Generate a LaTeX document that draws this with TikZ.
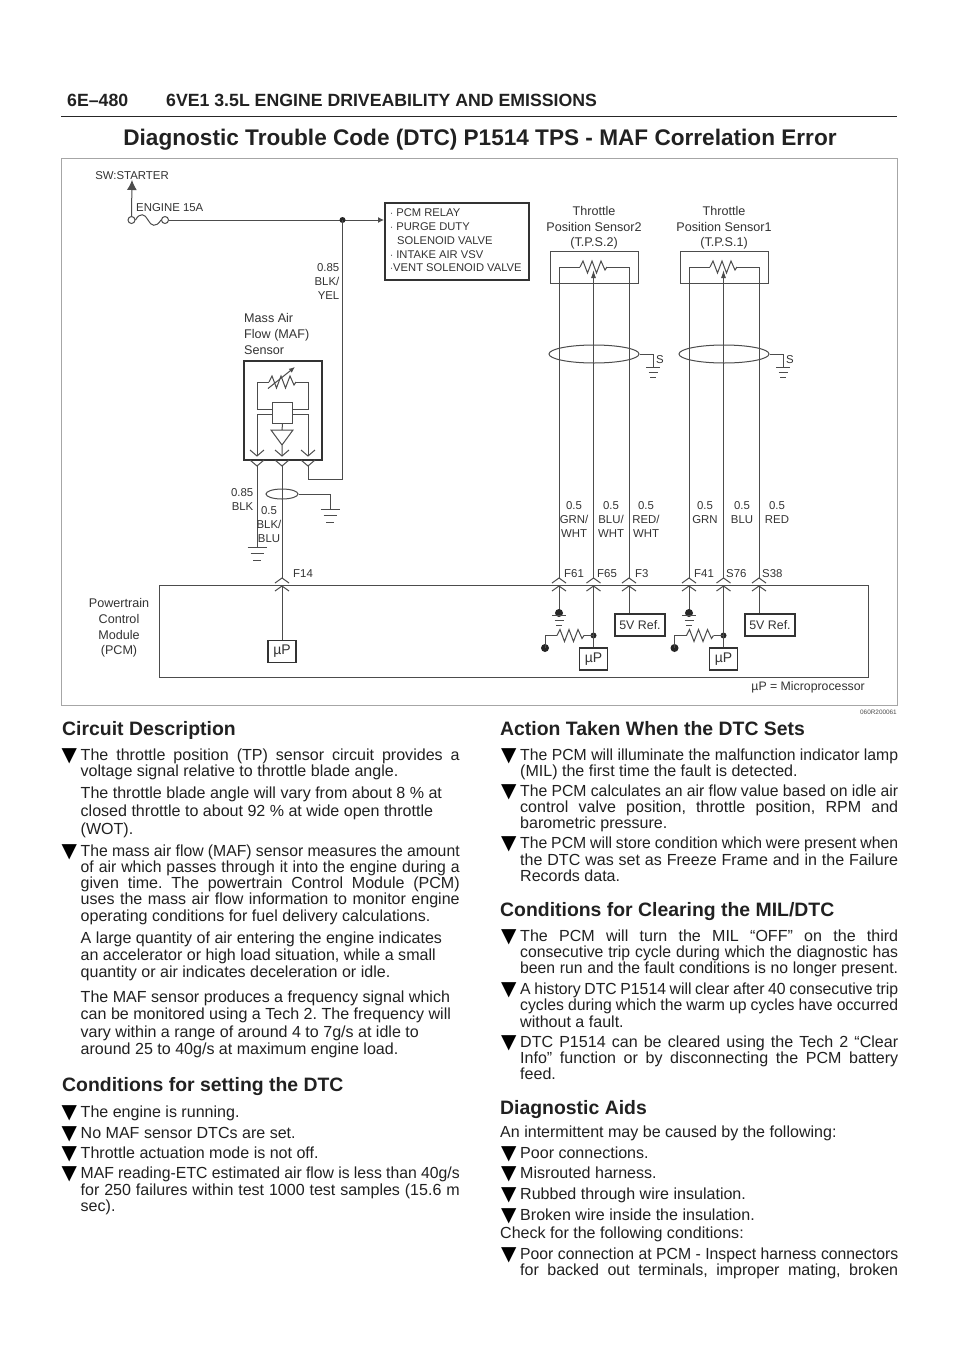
\documentclass[tikz,border=0pt]{standalone}
\usepackage{fontspec}
\usepackage{graphicx}
\setmainfont{Liberation Sans}
\newfontfamily\symfont{DejaVu Sans}
\usetikzlibrary{arrows.meta,shapes.geometric}
\definecolor{wirecol}{gray}{0.3}
\definecolor{labelcol}{gray}{0.2}
\definecolor{inkcol}{gray}{0.13}
\newcommand{\jl}[1]{\makebox[379pt][s]{#1}}
\newcommand{\jr}[1]{\makebox[378pt][s]{#1}}
\newcommand{\tl}[1]{\resizebox{379pt}{\height}{\makebox[386pt][s]{#1}}}
\newcommand{\tr}[1]{\resizebox{378pt}{\height}{\makebox[385pt][s]{#1}}}
\tikzset{
  wire/.style={draw=wirecol, line width=1pt},
  heavy/.style={draw=labelcol, line width=1.6pt},
  bodyline/.style={anchor=base west, inner sep=0pt, text=inkcol, font=\fontsize{16.05}{17}\selectfont\frenchspacing},
  headline/.style={anchor=base west, inner sep=0pt, text=inkcol, font=\fontsize{19.4}{22}\selectfont\bfseries},
  bulletmark/.style={anchor=base west, inner sep=0pt, text=black, font=\fontsize{20}{20}\selectfont\symfont},
  tag/.style={inner sep=0pt, text=labelcol, align=center, font=\fontsize{11.4}{14}\selectfont},
  big/.style={inner sep=0pt, text=labelcol, align=center, font=\fontsize{12.6}{15.6}\selectfont},
  mpbox/.style={heavy, fill=white, inner sep=0pt, minimum width=28pt, minimum height=22pt, text=labelcol, font=\fontsize{14}{14}\selectfont},
  refbox/.style={heavy, fill=white, inner sep=0pt, minimum width=50pt, minimum height=22pt, text=labelcol, font=\fontsize{12.4}{14}\selectfont},
  chevup/.pic={\draw[wire] (-7,5) -- (0,0) -- (7,5);},
  chevdown/.pic={\draw[wire] (-7,-6) -- (0,0) -- (7,-6);},
  earth/.pic={\draw[wire] (-9.5,0) -- (9.5,0) (-6.5,6.5) -- (6.5,6.5) (-4,13) -- (4,13);},
  earthsmall/.pic={\draw[wire] (-7,0) -- (7,0) (-4.5,5) -- (4.5,5) (-3,10) -- (3,10);},
  zigzag/.pic={\draw[wire] (0,0) -- (3,-6) -- (7.5,6) -- (12,-6) -- (16.5,6) -- (21,-6) -- (25,3) -- (27,0);}
}
\begin{document}
\begin{tikzpicture}[x=1pt,y=-1pt]
\useasboundingbox[fill=white] (0,0) rectangle (960,1358);
% page head
\node[anchor=base west, inner sep=0pt, text=inkcol, font=\fontsize{17.7}{18}\selectfont\bfseries] (pagenum) at (67,106.5) {6E--480};
\node[anchor=base west, inner sep=0pt, text=inkcol, font=\fontsize{17.7}{18}\selectfont\bfseries] (pagehead) at (166,106.5) {6VE1 3.5L ENGINE DRIVEABILITY AND EMISSIONS};
\draw[line width=1.8pt, draw=black!85] (61,116.5) -- (897,116.5);
\node[anchor=base, inner sep=0pt, text=inkcol, font=\fontsize{22.6}{24}\selectfont\bfseries] (pagetitle) at (480,145) {Diagnostic Trouble Code (DTC) P1514 TPS - MAF Correlation Error};
\node[draw=black!35, line width=0.9pt, inner sep=0pt, minimum width=836pt, minimum height=547pt, anchor=north west] (frame) at (61,158) {};
\node[anchor=base east, inner sep=0pt, text=wirecol, font=\fontsize{6.4}{7}\selectfont] (figcode) at (897,714) {060R200061};
% power feed
\coordinate (fuseL) at (131.5,220);
\coordinate (fuseR) at (165,220);
\coordinate (split) at (342.5,220);
\node[wire, circle, minimum size=7pt, inner sep=0pt] (fuseA) at (fuseL) {};
\node[wire, circle, minimum size=7pt, inner sep=0pt] (fuseB) at (fuseR) {};
\draw[wire] (fuseA.east) .. controls (140,212) and (145,214) .. (148,220) .. controls (151,226) and (156,228) .. (fuseB.west);
\node[tag, anchor=south] (starter) at (132,180) {SW:STARTER};
\draw[wire, -{Latex[length=10pt,width=10pt]}] (fuseA.north) -- (starter.south);
\node[tag, anchor=west] (fuselabel) at (136,208) {ENGINE 15A};
\node[heavy, inner sep=0pt, minimum width=144pt, minimum height=77pt, anchor=north west] (loadbox) at (384,202) {};
\node[tag, anchor=west, align=left, font=\fontsize{11.2}{13.7}\selectfont] (loadtext) at (390,240.5) {$\cdot$ PCM RELAY\\$\cdot$ PURGE DUTY\\\hspace*{7pt}SOLENOID VALVE\\$\cdot$ INTAKE AIR VSV\\$\cdot$VENT SOLENOID VALVE};
\draw[wire] (fuseB.east) -- (split);
\draw[wire, -{Latex[length=6pt,width=6pt]}] (split) -- (loadbox.west |- split);
\fill[black!85] (split) circle (3);
\node[tag, anchor=east, align=right] (feedlabel) at (339.5,281.5) {0.85\\BLK/\\YEL};
% mass air flow sensor
\node[big, anchor=north west, align=left] (maflabel) at (244,313.5) {Mass Air\\Flow (MAF)\\Sensor};
\node[heavy, inner sep=0pt, minimum width=78pt, minimum height=99pt, anchor=north west] (mafbox) at (243,360) {};
\node[wire, inner sep=0pt, minimum width=20pt, minimum height=21pt, anchor=north west] (mafchip) at (272,402) {};
\draw[wire] (mafchip.west |- 0,409) -- (257,409) -- (257,382) -- (269,382);
\draw[wire] (296,382) -- (308,382) -- (308,409) -- (mafchip.east |- 0,409);
\pic at (269,382) {zigzag};
\draw[wire, -{Latex[length=6pt,width=5pt]}] (268,388.5) -- (295,367);
\foreach \n/\x in {a/257,b/282,c/308} {
  \coordinate (mafin\n) at (\x,456);
  \coordinate (mafout\n) at (\x,466);
  \pic at (mafin\n) {chevdown};
  \pic at (mafout\n) {chevdown};
}
\draw[wire] (mafchip.west |- 0,414) -- (257,414) -- (mafina);
\draw[wire] (mafchip.east |- 0,414) -- (308,414) -- (mafinc);
\draw[wire] (mafchip.south) -- (282,430) (271,430) -- (293,430) -- (282,445) -- cycle (282,445) -- (mafinb);
\draw[wire] (mafoutc) -- (308,479) -- (342.5,479) -- (split);
% bottom of the sensor
\coordinate (earthA) at (257,547);
\coordinate (earthB) at (330,509);
\pic at (earthA) {earth};
\pic at (earthB) {earth};
\draw[wire] (mafouta) -- (earthA);
\node[wire, ellipse, minimum width=32pt, minimum height=10pt, inner sep=0pt] (mafshield) at (282,494) {};
\draw[wire] (mafshield.east) -- (earthB |- mafshield) -- (earthB);
\node[tag, anchor=east, align=right] (blklabel) at (253.5,500) {0.85\\BLK};
\node[tag] (blulabel) at (269,524.5) {0.5\\BLK/\\BLU};
% pcm
\node[wire, inner sep=0pt, minimum width=709pt, minimum height=92pt, anchor=north west] (pcmbox) at (159,585) {};
\node[big] (pcmlabel) at (119,628) {Powertrain\\Control\\Module\\(PCM)};
\node[anchor=east, inner sep=0pt, text=labelcol, font=\fontsize{12.3}{13}\selectfont] (mplabel) at (865,687.5) {µP = Microprocessor};
\node[mpbox] (upA) at (282,651.5) {µP};
\foreach \n/\x/\t in {p14/282/F14,p61/559/F61,p65/593.5/F65,p3/629/F3,p41/689/F41,p76/723.5/S76,p38/759/S38} {
  \coordinate (\n top) at (\x,578);
  \coordinate (\n low) at (\x,586);
  \pic at (\n top) {chevup};
  \pic at (\n low) {chevup};
}
\draw[wire] (mafoutb) -- (p14top);
\draw[wire] (p14low) -- (upA);
\foreach \n/\x/\t in {p14/293/F14,p61/564/F61,p65/597/F65,p3/635/F3,p41/694/F41,p76/726/S76,p38/762/S38}
  \node[tag, anchor=west] (\n name) at (\x,573.5) {\t};
% sensors
\foreach \s/\x/\t/\a/\b/\c/\d in {two/594/2/p61/p65/p3/S,one/724/1/p41/p76/p38/S} {
  \node[wire, inner sep=0pt, minimum width=88pt, minimum height=32pt] (box\s) at (\x,267) {};
  \node[big] (name\s) at (\x,228) {Throttle\\Position Sensor\t\\(T.P.S.\t)};
  \coordinate (left\s) at (\a top |- 0,267);
  \coordinate (right\s) at (\c top |- 0,267);
  \draw[wire] (\a top) -- (left\s) -- (\x-14,267);
  \draw[wire] (\x+13,267) -- (right\s) -- (\c top);
  \pic at (\x-14,267) {zigzag};
  \draw[wire, -{Latex[length=8pt,width=5pt]}] (\b top) -- (\b top |- 0,270);
  \node[wire, ellipse, inner sep=0pt, minimum width=90pt, minimum height=18pt] (shield\s) at (\x,354) {};
  \coordinate (earth\s) at (\x+59,367);
  \draw[wire] (shield\s.east) -- (earth\s |- shield\s) -- (earth\s);
  \pic at (earth\s) {earthsmall};
  \node[tag, anchor=west] (sname\s) at (\x+62,360) {\d};
}
\foreach \s/\a/\b/\c/\rx in {two/p61/p65/p3/545,one/p41/p76/p38/674.5} {
  \coordinate (dot\s) at (\a low |- 0,613);
  \draw[wire] (\a low) -- (dot\s);
  \fill[black!85] (dot\s) circle (4);
  \pic at (\a low |- 0,615.5) {earthsmall};
  \coordinate (tie\s) at (\b low |- 0,635.5);
  \coordinate (rstub\s) at (\rx,648);
  \fill[black!85] (rstub\s) circle (4);
  \fill[black!85] (tie\s) circle (3);
  \draw[wire] (rstub\s) -- (\rx,635.5) -- (\rx+12,635.5);
  \pic at (\rx+12,635.5) {zigzag};
  \draw[wire] (\rx+39,635.5) -- (tie\s);
  \node[mpbox] (up\s) at (\b low |- 0,659) {µP};
  \draw[wire] (\b low) -- (up\s);
  \node[refbox] (ref\s) at ([xshift=11pt]\c low |- 0,625) {5V Ref.};
  \draw[wire] (\c low) -- (\c low |- ref\s.north);
}
\foreach \n/\x/\t in {a/574/{0.5\\GRN/\\WHT},b/611/{0.5\\BLU/\\WHT},c/646/{0.5\\RED/\\WHT},d/705/{0.5\\GRN\\\strut},e/742/{0.5\\BLU\\\strut},f/777/{0.5\\RED\\\strut}}
  \node[tag, anchor=north] (col\n) at (\x,501.5) {\t};
% left column
\node[headline] (headA) at (62,735.5) {Circuit Description};
\node[headline] (headB) at (62,1091) {Conditions for setting the DTC};
\foreach \b/\t in {
  760/{\jl{The throttle position (TP) sensor circuit provides a}},
  776/{voltage signal relative to throttle blade angle.},
  798/{The throttle blade angle will vary from about 8 \% at},
  816/{closed throttle to about 92 \% at wide open throttle},
  834/{(WOT).},
  856/{\tl{The mass air flow (MAF) sensor measures the amount}},
  872/{\tl{of air which passes through it into the engine during a}},
  888/{\jl{given time. The powertrain Control Module (PCM)}},
  904/{\jl{uses the mass air flow information to monitor engine}},
  921/{operating conditions for fuel delivery calculations.},
  943/{A large quantity of air entering the engine indicates},
  960/{an accelerator or high load situation, while a small},
  977/{quantity or air indicates deceleration or idle.},
  1002/{The MAF sensor produces a frequency signal which},
  1019/{can be monitored using a Tech 2. The frequency will},
  1037/{vary within a range of around 4 to 7g/s at idle to},
  1054/{around 25 to 40g/s at maximum engine load.},
  1117/{The engine is running.},
  1138/{No MAF sensor DTCs are set.},
  1158/{Throttle actuation mode is not off.},
  1178/{\tl{MAF reading-ETC estimated air flow is less than 40g/s}},
  1195/{\jl{for 250 failures within test 1000 test samples (15.6 m}},
  1211/{sec).}}
  \node[bodyline] (ltxt\b) at (80.5,\b) {\t};
\foreach \b in {761,857,1118,1139,1159,1179}
  \node[bulletmark] (lmark\b) at (61.5,\b) {▼};
% right column
\node[headline] (headC) at (500,735.5) {Action Taken When the DTC Sets};
\node[headline] (headD) at (500,916) {Conditions for Clearing the MIL/DTC};
\node[headline] (headE) at (500,1114.5) {Diagnostic Aids};
\foreach \b/\t in {
  760/{\tr{The PCM will illuminate the malfunction indicator lamp}},
  776/{(MIL) the first time the fault is detected.},
  796/{\tr{The PCM calculates an air flow value based on idle air}},
  812/{\jr{control valve position, throttle position, RPM and}},
  828/{barometric pressure.},
  848/{\tr{The PCM will store condition which were present when}},
  865/{\jr{the DTC was set as Freeze Frame and in the Failure}},
  881/{Records data.},
  941/{\jr{The PCM will turn the MIL “OFF” on the third}},
  957/{\tr{consecutive trip cycle during which the diagnostic has}},
  973/{\tr{been run and the fault conditions is no longer present.}},
  994/{\tr{A history DTC P1514 will clear after 40 consecutive trip}},
  1010/{\tr{cycles during which the warm up cycles have occurred}},
  1027/{without a fault.},
  1047/{\jr{DTC P1514 can be cleared using the Tech 2 “Clear}},
  1063/{\jr{Info” function or by disconnecting the PCM battery}},
  1079/{feed.},
  1158/{Poor connections.},
  1178/{Misrouted harness.},
  1199/{Rubbed through wire insulation.},
  1220/{Broken wire inside the insulation.},
  1259/{\tr{Poor connection at PCM - Inspect harness connectors}},
  1275/{\jr{for backed out terminals, improper mating, broken}}}
  \node[bodyline] (rtxt\b) at (520,\b) {\t};
\node[bodyline] (rtxtA) at (500,1137) {An intermittent may be caused by the following:};
\node[bodyline] (rtxtB) at (500,1238) {Check for the following conditions:};
\foreach \b in {761,797,849,942,995,1048,1159,1179,1200,1221,1260}
  \node[bulletmark] (rmark\b) at (501,\b) {▼};
\end{tikzpicture}
\end{document}
